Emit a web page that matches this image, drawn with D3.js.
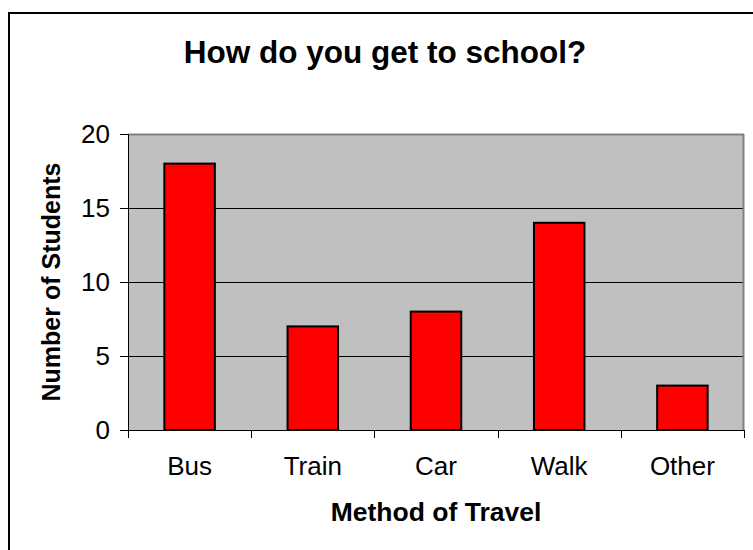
<!DOCTYPE html>
<html>
<head>
<meta charset="utf-8">
<script src="https://cdn.jsdelivr.net/npm/d3@7"></script>
<style>
  body { margin: 0; background: #fff; }
  text { font-family: Arial, "Liberation Sans", sans-serif; }
</style>
</head>
<body>
<div id="chart"></div>
<script>
// chart data
var methods = ["Bus", "Train", "Car", "Walk", "Other"];
var students = [18, 7, 8, 14, 3];
var yTicks = [0, 5, 10, 15, 20];

var W = 753, H = 550;
var margin = {top: 134, right: 9, bottom: 120, left: 128},
    width = W - margin.left - margin.right,
    height = H - margin.top - margin.bottom;

var root = d3.select("#chart")
  .append("svg")
    .attr("width", W)
    .attr("height", H);

// outer frame (only top and left show in the picture)
root.append("path")
  .attr("d", "M9,550 V13 H753")
  .attr("fill", "none")
  .attr("stroke", "#000")
  .attr("stroke-width", 2);

root.append("text")
  .attr("x", 385)
  .attr("y", 63)
  .attr("text-anchor", "middle")
  .style("font-size", "31.5px")
  .style("font-weight", "bold")
  .text("How do you get to school?");

var svg = root.append("g")
  .attr("transform", "translate(" + margin.left + "," + margin.top + ")");

var x = d3.scaleBand()
  .domain(methods)
  .range([0, width])
  .paddingInner(0.59)
  .paddingOuter(0.295);

var y = d3.scaleLinear()
  .domain([0, 20])
  .range([height, 0]);

// plot area
svg.append("rect")
  .attr("width", width)
  .attr("height", height)
  .attr("fill", "#c0c0c0");

// gridlines
svg.selectAll("line.grid")
  .data(yTicks.slice(1))
  .enter()
  .append("line")
    .attr("class", "grid")
    .attr("x1", 0)
    .attr("x2", width)
    .attr("y1", function(d) { return Math.round(y(d)) + 0.5; })
    .attr("y2", function(d) { return Math.round(y(d)) + 0.5; })
    .attr("stroke", "#000")
    .attr("stroke-width", 1);

// plot area border, top and right
svg.append("line")
  .attr("x1", width - 0.5).attr("x2", width - 0.5)
  .attr("y1", 0).attr("y2", height)
  .attr("stroke", "#808080")
  .attr("stroke-width", 2);
svg.append("line")
  .attr("x1", 0).attr("x2", width)
  .attr("y1", 0.5).attr("y2", 0.5)
  .attr("stroke", "#808080")
  .attr("stroke-width", 2);

// bars
svg.selectAll("rect.bar")
  .data(students)
  .enter()
  .append("rect")
    .attr("class", "bar")
    .attr("x", function(d, i) { return x(methods[i]); })
    .attr("y", function(d) { return y(d); })
    .attr("width", x.bandwidth())
    .attr("height", function(d) { return height - y(d); })
    .attr("fill", "#ff0000")
    .attr("stroke", "#000")
    .attr("stroke-width", 2);

// y axis
var yAxis = svg.append("g")
  .call(d3.axisLeft(y).tickValues(yTicks).tickSize(8).tickPadding(10));
yAxis.select(".domain").attr("stroke", "#000").attr("stroke-width", 1);
yAxis.selectAll("text")
  .style("font-size", "26px")
  .attr("fill", "#000");

// x axis: ticks sit between categories
var xAxis = svg.append("g")
  .attr("transform", "translate(0," + height + ")");
xAxis.append("line")
  .attr("x1", -8).attr("x2", width)
  .attr("y1", 0.5).attr("y2", 0.5)
  .attr("stroke", "#000");
xAxis.selectAll("line.tick")
  .data(d3.range(methods.length + 1))
  .enter()
  .append("line")
    .attr("class", "tick")
    .attr("x1", function(i) { return Math.round(i * x.step()) + 0.5; })
    .attr("x2", function(i) { return Math.round(i * x.step()) + 0.5; })
    .attr("y1", 0)
    .attr("y2", 8)
    .attr("stroke", "#000");
xAxis.selectAll("text.lab")
  .data(methods)
  .enter()
  .append("text")
    .attr("class", "lab")
    .attr("x", function(d) { return x(d) + x.bandwidth() / 2; })
    .attr("y", 45)
    .attr("text-anchor", "middle")
    .style("font-size", "26px")
    .text(function(d) { return d; });

// axis titles
root.append("text")
  .attr("x", margin.left + width / 2)
  .attr("y", 521)
  .attr("text-anchor", "middle")
  .style("font-size", "26.5px")
  .style("font-weight", "bold")
  .text("Method of Travel");

root.append("text")
  .attr("transform", "translate(60," + (margin.top + height / 2) + ")rotate(-90)")
  .attr("text-anchor", "middle")
  .style("font-size", "25px")
  .style("font-weight", "bold")
  .text("Number of Students");
</script>
</body>
</html>
